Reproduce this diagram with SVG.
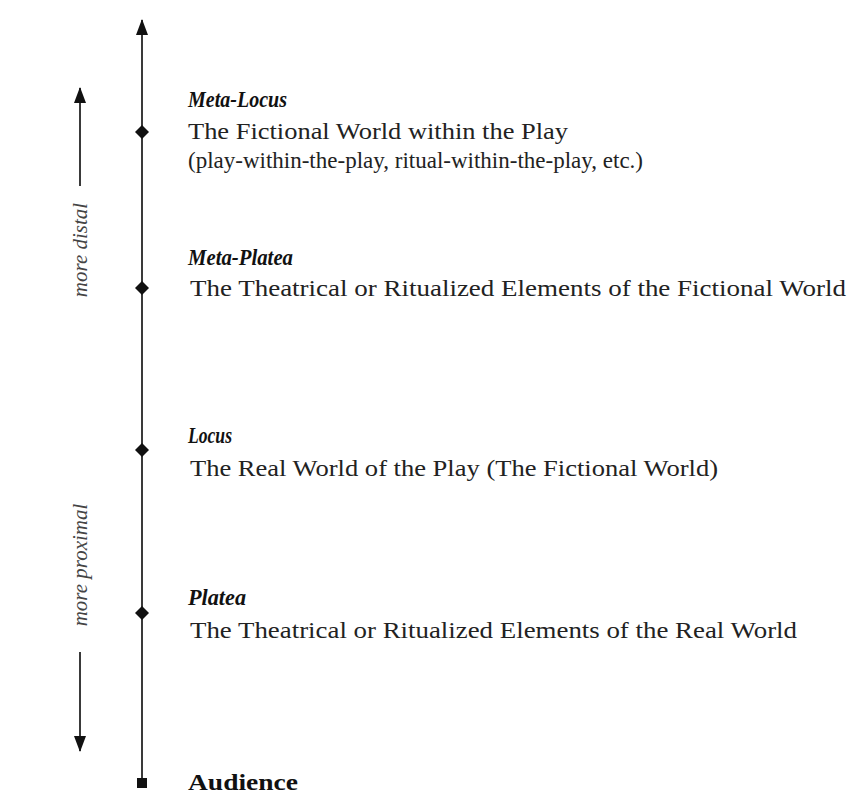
<svg xmlns="http://www.w3.org/2000/svg" width="848" height="794" viewBox="0 0 848 794">
<defs>
<style>
.head{font-family:"Liberation Serif","Times New Roman",serif;font-size:23px;font-weight:bold;font-style:italic;fill:#111}
.body{font-family:"Liberation Serif","Times New Roman",serif;font-size:24px;fill:#222}
.aud{font-family:"Liberation Serif","Times New Roman",serif;font-size:23px;font-weight:bold;fill:#111}
.side{font-family:"Liberation Serif","Times New Roman",serif;font-size:21px;font-style:italic;fill:#444}
.axis{stroke:#3a3a3a;stroke-width:2;fill:none}
.pt{fill:#111}
</style>
<marker id="ah" viewBox="0 0 16 12" refX="15" refY="6" markerWidth="16" markerHeight="12" markerUnits="userSpaceOnUse" orient="auto">
<path d="M0,0 L16,6 L0,12 z" fill="#111"/>
</marker>
</defs>
<rect width="848" height="794" fill="#fff"/>
<g id="connectors">
<line class="axis" x1="142" y1="783" x2="142" y2="20" marker-end="url(#ah)"/>
<line class="axis" x1="80" y1="186" x2="80" y2="88" marker-end="url(#ah)"/>
<line class="axis" x1="80" y1="652" x2="80" y2="751" marker-end="url(#ah)"/>
</g>
<g id="meta-locus">
<path class="pt" d="M142,125 L149,132 L142,139 L135,132 z"/>
<text class="head" x="188" y="107" textLength="99" lengthAdjust="spacingAndGlyphs">Meta-Locus</text>
<text class="body" x="188" y="139" textLength="380" lengthAdjust="spacingAndGlyphs">The Fictional World within the Play</text>
<text class="body" x="188" y="168" textLength="455" lengthAdjust="spacingAndGlyphs" style="font-size:23px">(play-within-the-play, ritual-within-the-play, etc.)</text>
</g>
<g id="meta-platea">
<path class="pt" d="M142,281 L149,288 L142,295 L135,288 z"/>
<text class="head" x="188" y="265" textLength="105" lengthAdjust="spacingAndGlyphs">Meta-Platea</text>
<text class="body" x="190" y="296" textLength="656" lengthAdjust="spacingAndGlyphs">The Theatrical or Ritualized Elements of the Fictional World</text>
</g>
<g id="locus">
<path class="pt" d="M142,443 L149,450 L142,457 L135,450 z"/>
<text class="head" x="188" y="443" textLength="44" lengthAdjust="spacingAndGlyphs">Locus</text>
<text class="body" x="190" y="476" textLength="528" lengthAdjust="spacingAndGlyphs">The Real World of the Play (The Fictional World)</text>
</g>
<g id="platea">
<path class="pt" d="M142,606 L149,613 L142,620 L135,613 z"/>
<text class="head" x="188" y="605" textLength="58" lengthAdjust="spacingAndGlyphs">Platea</text>
<text class="body" x="190" y="638" textLength="607" lengthAdjust="spacingAndGlyphs">The Theatrical or Ritualized Elements of the Real World</text>
</g>
<g id="audience">
<rect class="pt" x="137" y="778" width="10" height="10"/>
<text class="aud" x="188" y="790" textLength="110" lengthAdjust="spacingAndGlyphs">Audience</text>
</g>
<g id="more-distal">
<text class="side" transform="translate(87,250) rotate(-90)" text-anchor="middle">more distal</text>
</g>
<g id="more-proximal">
<text class="side" transform="translate(87,565) rotate(-90)" text-anchor="middle">more proximal</text>
</g>
</svg>
